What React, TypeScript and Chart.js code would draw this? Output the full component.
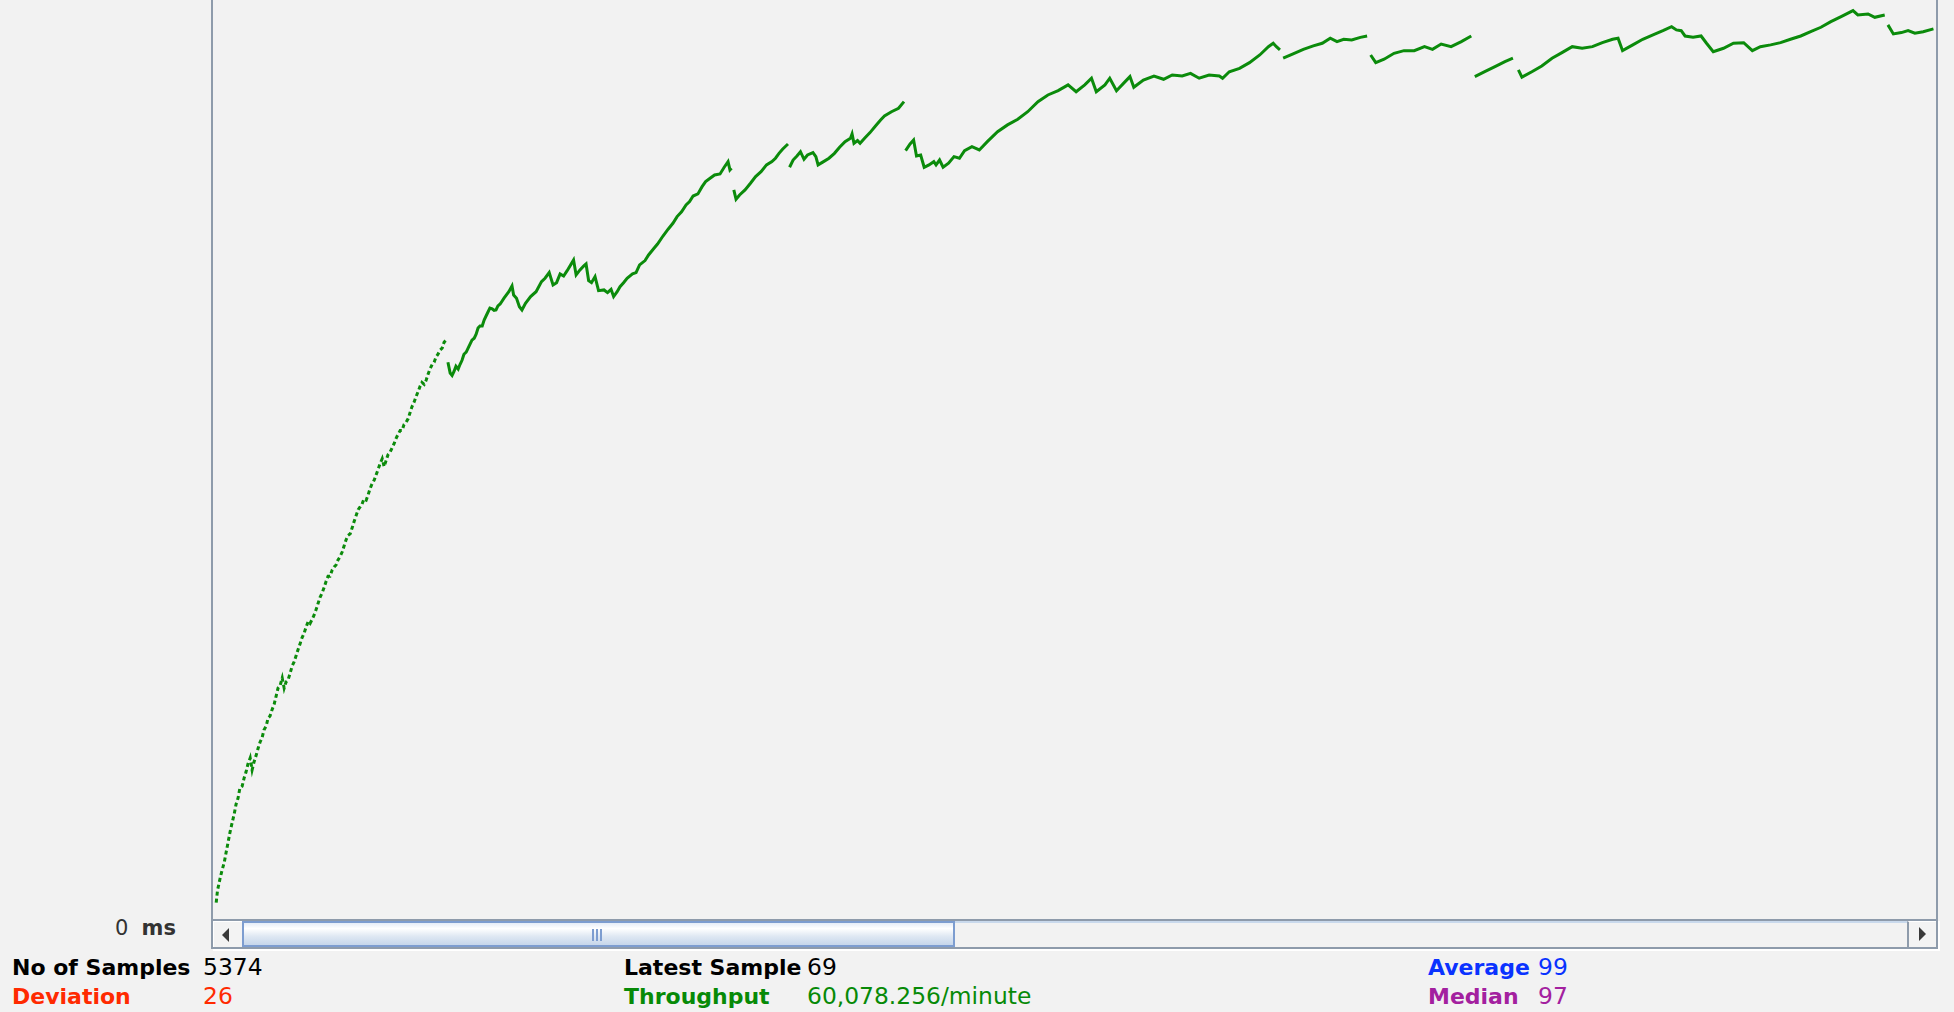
import React, { useEffect, useRef } from 'react';
import { Chart, registerables } from 'chart.js';

Chart.register(...registerables);

// [sample no, throughput per minute], one array per unbroken run of the trace
const run1 = [
  [16, 1110], [20, 1920], [28, 2730], [34, 3270], [41, 3810], [47, 4500], [53, 5170], [59, 5850],
  [66, 6530], [72, 7070], [78, 7750], [84, 8150], [90, 8840], [97, 8970], [103, 9510], [109, 9920],
  [115, 10460], [122, 10870], [128, 10060], [134, 10600], [140, 11000], [147, 11540], [153, 11950],
  [159, 12220], [165, 12760], [172, 13030], [178, 13570], [184, 13700], [190, 14110], [197, 14510],
  [203, 15050], [209, 15590], [215, 15730], [222, 16270], [228, 15590], [234, 16000], [240, 16130],
  [246, 16540], [253, 17080], [259, 17350], [265, 17750], [271, 18160], [278, 18600], [284, 19000],
  [290, 19270], [296, 19680], [303, 20090], [309, 19950], [315, 20220], [321, 20490], [328, 20900],
  [334, 21310], [340, 21710], [346, 21980], [353, 22390], [359, 22800], [365, 23130], [371, 23130],
  [378, 23560], [384, 23760], [390, 23900], [396, 24230], [402, 24440], [409, 24770], [415, 25180],
  [421, 25580], [427, 25890], [434, 26000], [440, 26390], [446, 26810], [452, 27200], [459, 27630],
  [465, 27810], [471, 28010], [477, 28360], [484, 28280], [490, 28630], [496, 29040], [502, 29360],
  [509, 29630], [515, 29980], [521, 30340], [527, 30710], [534, 31070], [540, 30530], [546, 30940],
  [552, 31340], [558, 31480], [565, 31810], [571, 32080], [577, 32430], [583, 32700], [590, 32970],
  [596, 32970], [602, 33380], [608, 33510], [615, 33780], [621, 34190], [627, 34590], [633, 34860],
  [640, 35280], [646, 35600], [652, 35950], [658, 36220], [665, 36090], [671, 36360], [677, 36770],
  [683, 37120], [690, 37440], [696, 37580], [702, 37940], [708, 38120], [714, 38390], [721, 38530],
  [727, 38930], [733, 39070],
];
const run2 = [
  [739, 37580], [746, 36850], [752, 36690], [758, 36960], [764, 37310], [771, 37120], [777, 37440],
  [783, 37710], [789, 38120], [796, 38260], [802, 38530], [808, 38800], [814, 39070], [821, 39200],
  [827, 39470], [833, 39890], [839, 40030], [846, 40030], [852, 40430], [858, 40700], [864, 40970],
  [870, 41240], [877, 41190], [883, 41080], [889, 41110], [895, 41380], [902, 41510], [914, 41900],
  [929, 42340], [939, 42730], [944, 42120], [953, 41900], [962, 41330], [970, 41110], [981, 41560],
  [997, 42010], [1014, 42340], [1031, 43020], [1042, 43250], [1055, 43630], [1067, 42800],
  [1078, 42950], [1089, 43540], [1100, 43400], [1111, 43760], [1122, 44150], [1131, 44480],
  [1139, 43470], [1151, 43810], [1163, 44080], [1170, 44210], [1178, 43090], [1187, 42950],
  [1198, 43360], [1209, 42410], [1226, 42460], [1237, 42280], [1248, 42500], [1256, 42010],
  [1267, 42340], [1276, 42680], [1287, 42950], [1298, 43250], [1315, 43540], [1326, 43630],
  [1337, 44150], [1354, 44440], [1365, 44820], [1382, 45270], [1393, 45560], [1410, 46100],
  [1426, 46560], [1441, 46960], [1454, 47410], [1468, 47740], [1482, 48200], [1493, 48420],
  [1504, 48800], [1519, 48940], [1532, 49430], [1543, 49770], [1557, 50000], [1571, 50220],
  [1588, 50290], [1601, 50740], [1613, 51120], [1619, 50560], [1624, 50670],
];
const run3 = [
  [1631, 49210], [1638, 48580], [1649, 48870], [1666, 49210], [1683, 49660], [1699, 50110],
  [1716, 50440], [1733, 50900], [1750, 51120], [1761, 51350], [1772, 51680], [1783, 51960],
  [1800, 52310],
];
const run4 = [
  [1805, 50740], [1816, 51230], [1828, 51500], [1839, 51790], [1850, 51280], [1861, 51570],
  [1878, 51730], [1887, 51460], [1894, 50900], [1911, 51120], [1928, 51350], [1945, 51680],
  [1961, 52090], [1978, 52470], [1995, 52700], [2000, 52990], [2006, 52360], [2017, 52540],
  [2025, 52360], [2039, 52700], [2056, 53080], [2073, 53530], [2089, 53930], [2101, 54200],
  [2123, 54490], [2145, 54720], [2162, 55170],
];
const run5 = [
  [2167, 51860], [2181, 52310], [2192, 52580], [2201, 51500], [2214, 51570], [2225, 50740],
  [2240, 50900], [2255, 51120], [2262, 50900], [2273, 51230], [2284, 50740], [2301, 51010],
  [2318, 51460], [2335, 51350], [2351, 51860], [2374, 52130], [2397, 51910], [2422, 52470],
  [2454, 53140], [2485, 53600], [2517, 53980], [2548, 54490], [2580, 55170], [2611, 55620],
  [2643, 55910], [2674, 56300], [2699, 55840], [2726, 56300], [2747, 56750], [2762, 55840],
  [2789, 56300], [2804, 56750], [2825, 55910], [2852, 56520], [2867, 56860], [2879, 56140],
  [2909, 56630], [2942, 56900], [2972, 56680], [2999, 56970], [3030, 56900], [3056, 57080],
  [3083, 56750], [3114, 56970], [3146, 56900], [3156, 56750], [3177, 57190], [3209, 57420],
  [3240, 57800], [3272, 58320], [3299, 58880], [3314, 59110], [3324, 58880], [3335, 58660],
];
const run6 = [
  [3345, 58100], [3376, 58390], [3408, 58700], [3439, 58930], [3467, 59110], [3492, 59450],
  [3513, 59220], [3534, 59380], [3559, 59330], [3586, 59510], [3607, 59600],
];
const run7 = [
  [3618, 58320], [3634, 57800], [3660, 58030], [3691, 58430], [3722, 58610], [3754, 58610],
  [3786, 58880], [3811, 58700], [3838, 59060], [3869, 58880], [3901, 59220], [3932, 59600],
];
const run8 = [[3943, 56860], [3974, 57190], [4006, 57530], [4037, 57870], [4062, 58100]];
const run9 = [
  [4079, 57310], [4090, 56820], [4121, 57190], [4152, 57580], [4184, 58100], [4215, 58480],
  [4247, 58880], [4278, 58770], [4310, 58880], [4341, 59150], [4373, 59380], [4390, 59450],
  [4404, 58610], [4436, 59000], [4467, 59380], [4499, 59670], [4530, 59960], [4557, 60230],
  [4572, 60010], [4587, 59960], [4599, 59600], [4624, 59510], [4649, 59600], [4666, 59110],
  [4687, 58540], [4719, 58770], [4750, 59110], [4782, 59150], [4809, 58610], [4834, 58880],
  [4866, 59000], [4897, 59150], [4928, 59380], [4960, 59600], [4991, 59890], [5023, 60190],
  [5054, 60570], [5086, 60910], [5123, 61310], [5138, 61020], [5170, 61090], [5191, 60860],
  [5222, 61020],
];
const run10 = [
  [5232, 60350], [5249, 59740], [5274, 59830], [5295, 59960], [5316, 59790], [5342, 59890],
  [5374, 60078],
];
const runs = [run1, run2, run3, run4, run5, run6, run7, run8, run9, run10];

// visible window of the graph
const sampleRange = [6, 5382];
const throughputRange = [0, 62030];

const statsLeft = [
  { label: 'No of Samples', value: '5374', color: '#000000' },
  { label: 'Deviation', value: '26', color: '#ff2a00' },
];
const statsMiddle = [
  { label: 'Latest Sample', value: '69', color: '#000000' },
  { label: 'Throughput', value: '60,078.256/minute', color: '#078a07' },
];
const statsRight = [
  { label: 'Average', value: '99', color: '#0a32ff' },
  { label: 'Median', value: '97', color: '#a3209f' },
];

const GREEN = '#0b8b0b';
const FRAME = '#8e9bab';
const FONT = '"DejaVu Sans", sans-serif';

function StatColumn({ rows, labelX, valueX }: { rows: typeof statsLeft; labelX: number; valueX: number }) {
  return (
    <>
      {rows.map((r, i) => (
        <React.Fragment key={r.label}>
          <div style={{ position: 'absolute', left: labelX, top: 957 + i * 29, fontSize: 22, lineHeight: '22px', fontWeight: 'bold', color: r.color, whiteSpace: 'pre' }}>{r.label}</div>
          <div style={{ position: 'absolute', left: valueX, top: 956 + i * 29, fontSize: 23.4, lineHeight: '23px', color: r.color, whiteSpace: 'pre' }}>{r.value}</div>
        </React.Fragment>
      ))}
    </>
  );
}

export default function App() {
  const canvasRef = useRef<HTMLCanvasElement>(null);
  const chartRef = useRef<Chart | null>(null);

  useEffect(() => {
    if (!canvasRef.current) return;
    chartRef.current?.destroy();
    chartRef.current = new Chart(canvasRef.current, {
      type: 'line',
      data: {
        datasets: runs.map((run, i) => ({
          label: 'Throughput ' + (i + 1),
          data: run.map(([x, y]) => ({ x, y })),
          borderColor: GREEN,
          borderWidth: 3,
          borderDash: i === 0 ? [4, 3] : [],
          pointRadius: 0,
          tension: 0,
          fill: false,
        })),
      },
      options: {
        animation: false,
        responsive: true,
        maintainAspectRatio: false,
        events: [],
        layout: { padding: 0 },
        scales: {
          x: { type: 'linear', display: false, min: sampleRange[0], max: sampleRange[1] },
          y: { type: 'linear', display: false, min: throughputRange[0], max: throughputRange[1] },
        },
        plugins: { legend: { display: false }, tooltip: { enabled: false } },
      },
    });
    return () => {
      chartRef.current?.destroy();
      chartRef.current = null;
    };
  }, []);

  return (
    <div style={{ position: 'fixed', left: 0, top: 0, width: 1954, height: 1012, background: '#f2f2f2', fontFamily: FONT, overflow: 'hidden' }}>
      {/* graph frame */}
      <div style={{ position: 'absolute', left: 211, top: 0, width: 2, height: 919, background: FRAME }} />
      <div style={{ position: 'absolute', left: 1936, top: 0, width: 2, height: 919, background: FRAME }} />
      <div style={{ position: 'absolute', left: 213, top: 0, width: 1723, height: 919 }}>
        <canvas ref={canvasRef} aria-label="Graph results throughput" role="img" />
      </div>

      {/* y axis label */}
      <div style={{ position: 'absolute', left: 0, top: 918, width: 176, textAlign: 'right', fontSize: 21, lineHeight: '21px', color: '#333', whiteSpace: 'pre' }}>
        0  <b>ms</b>
      </div>

      {/* scrollbar */}
      <div style={{ position: 'absolute', left: 213, top: 921, width: 1727, height: 30, background: '#ffffff' }} />
      <div style={{ position: 'absolute', left: 211, top: 919, width: 1727, height: 30, boxSizing: 'border-box', border: `2px solid ${FRAME}`, background: '#f2f2f2' }}>
        <div style={{ position: 'absolute', left: 0, right: 0, top: 0, height: 2, background: '#c9d9ec' }} />
        <div style={{ position: 'absolute', left: 0, top: 0, width: 29, height: 26, boxSizing: 'border-box', borderTop: '1px solid #fff', borderLeft: '1px solid #fff', background: '#f3f3f3' }}>
          <div style={{ position: 'absolute', left: 8, top: 6, width: 0, height: 0, borderTop: '7px solid transparent', borderBottom: '7px solid transparent', borderRight: '7px solid #3a3a3a' }} />
        </div>
        <div style={{ position: 'absolute', left: 29, top: 0, width: 713, height: 26, boxSizing: 'border-box', border: '2px solid #7d9dd0', background: 'linear-gradient(to bottom, #e6edf7 0%, #ffffff 25%, #dfe8f3 60%, #c6d6ea 100%)' }}>
          {[0, 4, 8].map((d) => (
            <div key={d} style={{ position: 'absolute', left: 348 + d, top: 6, width: 2, height: 12, background: '#7d9dd0' }} />
          ))}
        </div>
        <div style={{ position: 'absolute', left: 1694, top: 0, width: 29, height: 26, boxSizing: 'border-box', borderLeft: `2px solid ${FRAME}`, borderTop: '1px solid #fff', background: '#f3f3f3' }}>
          <div style={{ position: 'absolute', left: 10, top: 5, width: 0, height: 0, borderTop: '7px solid transparent', borderBottom: '7px solid transparent', borderLeft: '7px solid #3a3a3a' }} />
        </div>
      </div>

      {/* statistics */}
      <StatColumn rows={statsLeft} labelX={12} valueX={203} />
      <StatColumn rows={statsMiddle} labelX={624} valueX={807} />
      <StatColumn rows={statsRight} labelX={1428} valueX={1538} />
    </div>
  );
}
